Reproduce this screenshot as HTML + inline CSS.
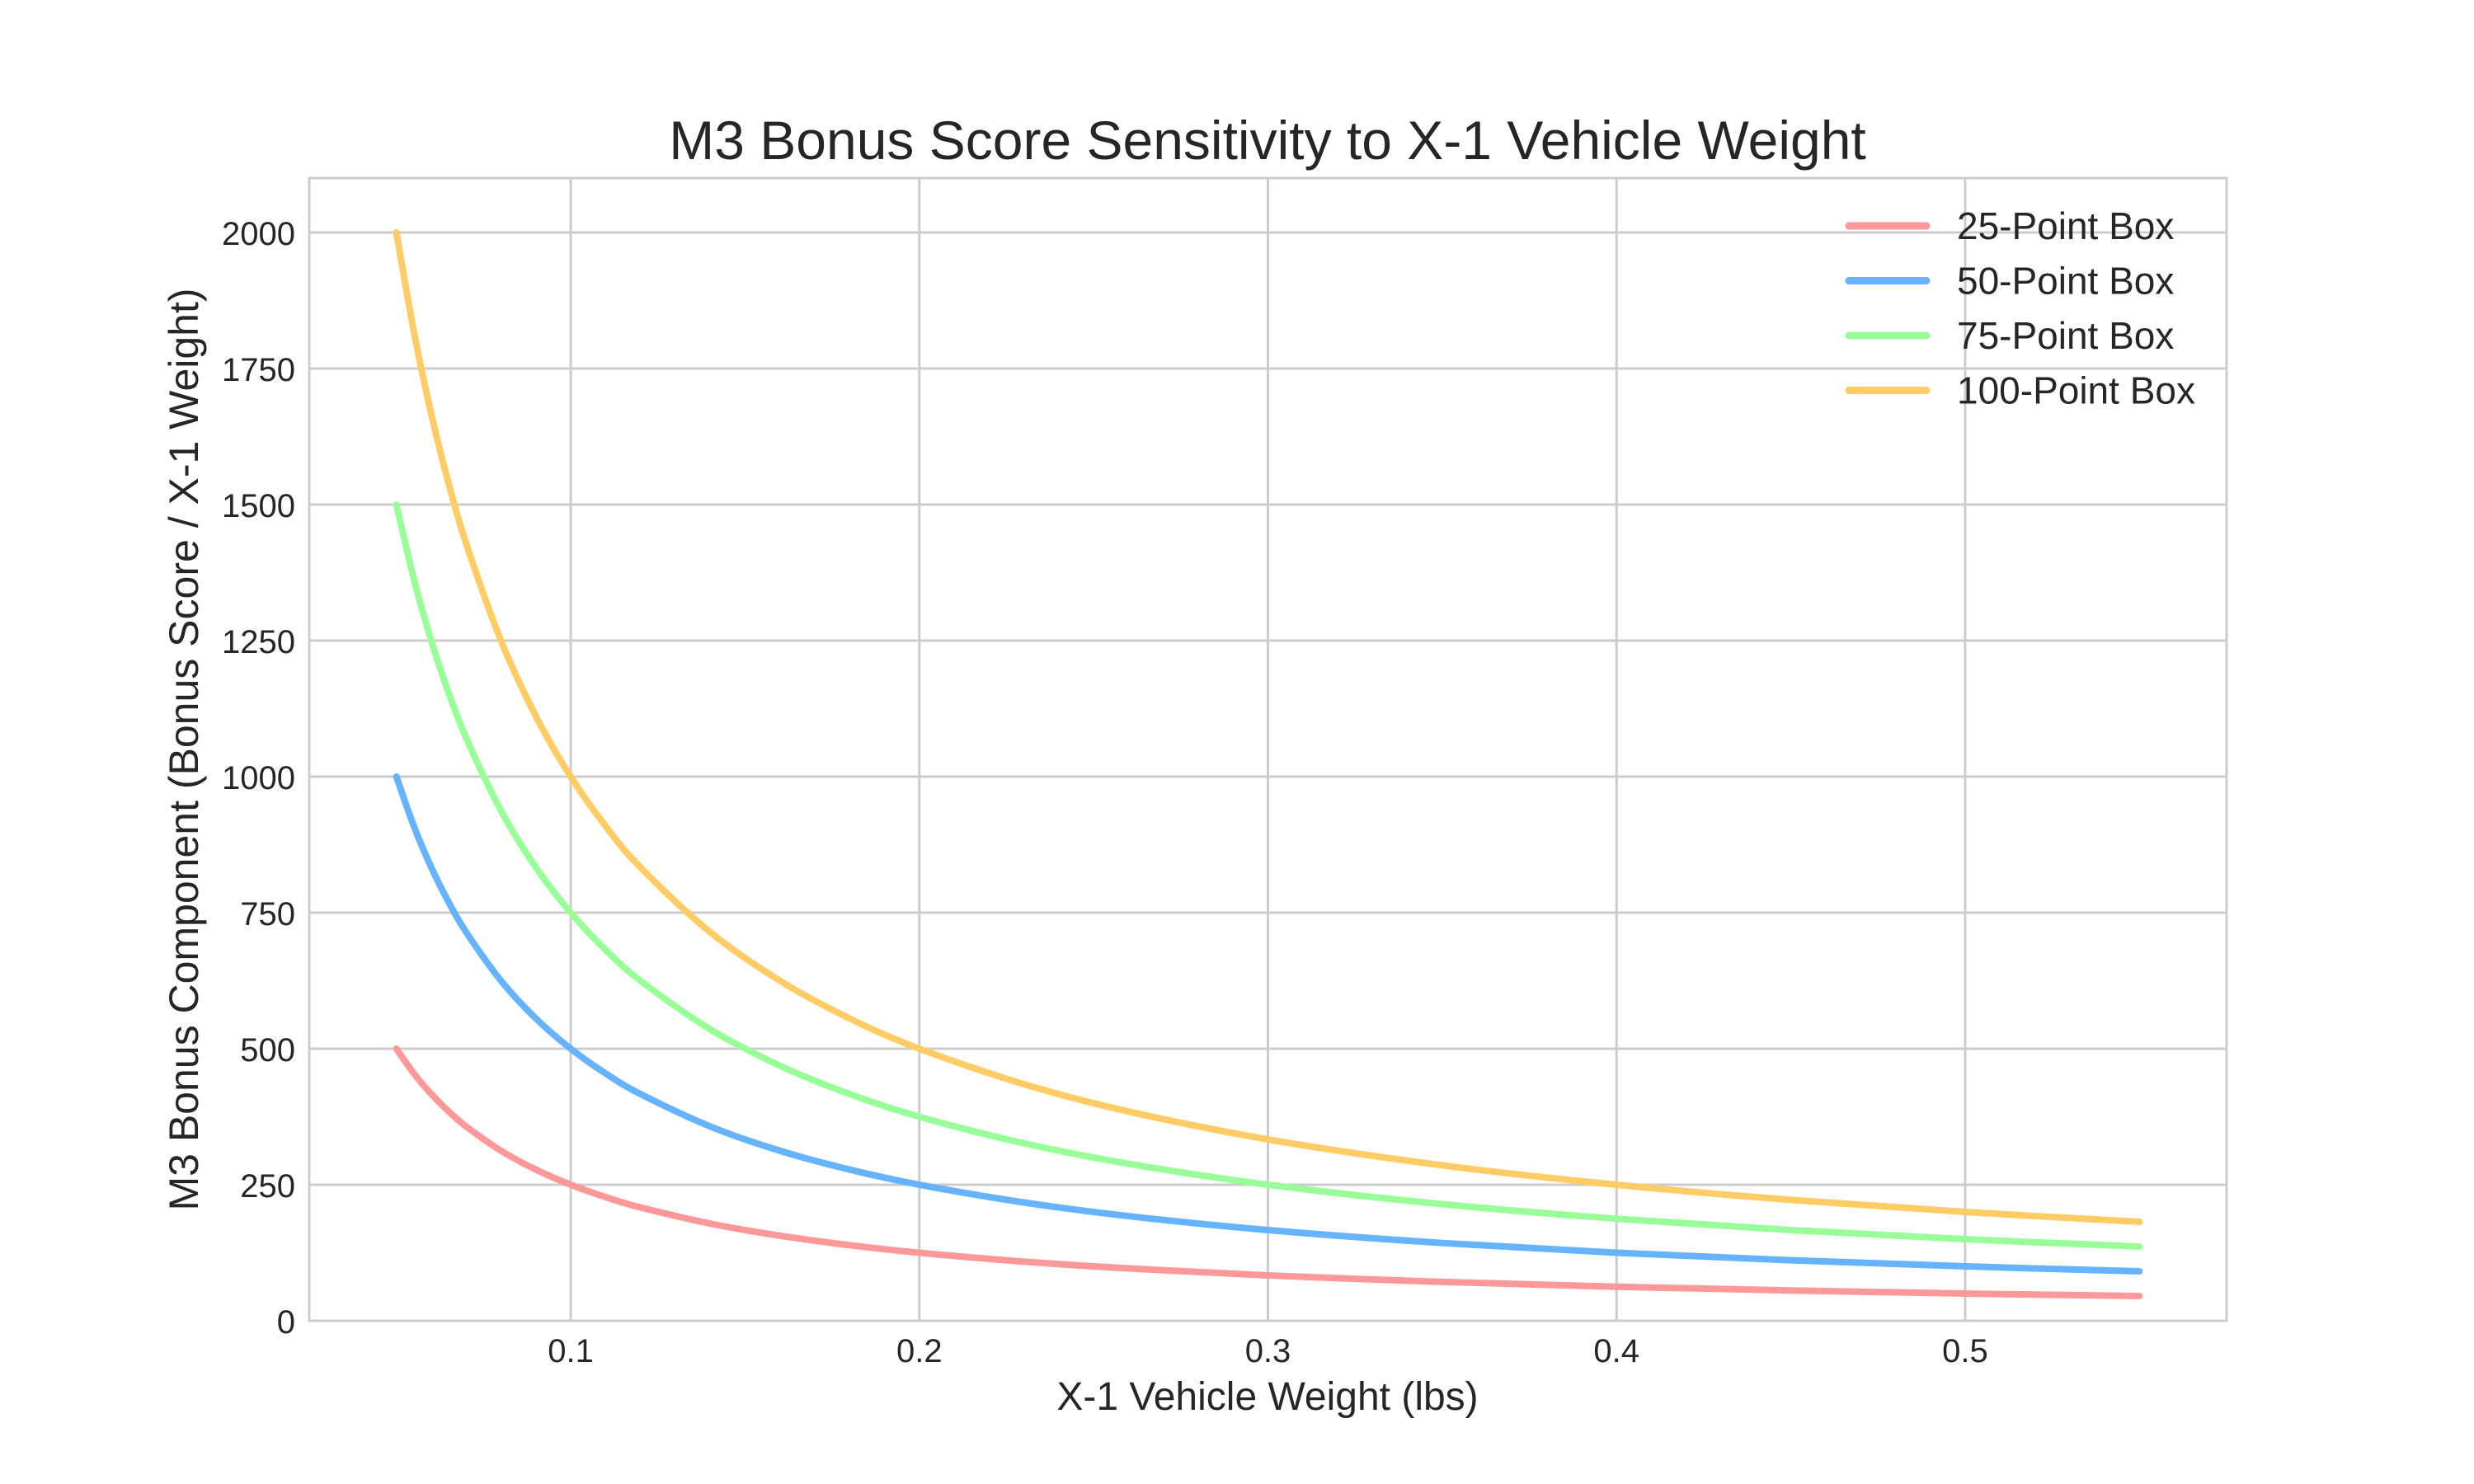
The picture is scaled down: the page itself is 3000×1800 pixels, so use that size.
<!DOCTYPE html>
<html><head><meta charset="utf-8"><style>
html,body{margin:0;padding:0;background:#fff;}
svg{display:block;font-family:"Liberation Sans",Arial,sans-serif;}
</style></head><body>
<svg id="chart" width="3000" height="1800" viewBox="0 0 3000 1800">
<rect width="3000" height="1800" fill="#fff"/>
<g id="grid"></g>
<g id="series"></g>
<rect x="375" y="216" width="2325" height="1386" fill="none" stroke="#cccccc" stroke-width="3"/>
<g id="ticks" fill="#262626" font-size="40"></g>
<text x="1537" y="193" text-anchor="middle" font-size="66" fill="#262626">M3 Bonus Score Sensitivity to X-1 Vehicle Weight</text>
<text x="1537" y="1710" text-anchor="middle" font-size="48" fill="#262626">X-1 Vehicle Weight (lbs)</text>
<text transform="translate(240,909) rotate(-90)" text-anchor="middle" font-size="50" fill="#262626">M3 Bonus Component (Bonus Score / X-1 Weight)</text>
<g id="legend" font-size="46" fill="#262626"></g>
</svg>
<script>
const weights = [0.05,0.055,0.06,0.065,0.07,0.08,0.09,0.1,0.11,0.12,0.14,0.16,0.18,0.2,0.23,0.26,0.3,0.35,0.4,0.45,0.5,0.55];
const box25 = [500,454.5,416.7,384.6,357.1,312.5,277.8,250,227.3,208.3,178.6,156.3,138.9,125,108.7,96.2,83.3,71.4,62.5,55.6,50,45.5];
const box50 = [1000,909.1,833.3,769.2,714.3,625,555.6,500,454.5,416.7,357.1,312.5,277.8,250,217.4,192.3,166.7,142.9,125,111.1,100,90.9];
const box75 = [1500,1363.6,1250,1153.8,1071.4,937.5,833.3,750,681.8,625,535.7,468.8,416.7,375,326.1,288.5,250,214.3,187.5,166.7,150,136.4];
const box100 = [2000,1818.2,1666.7,1538.5,1428.6,1250,1111.1,1000,909.1,833.3,714.3,625,555.6,500,434.8,384.6,333.3,285.7,250,222.2,200,181.8];
const seriesNames = ["25-Point Box","50-Point Box","75-Point Box","100-Point Box"];
const xTicks = [0.1,0.2,0.3,0.4,0.5];
const xTickLabels = ["0.1","0.2","0.3","0.4","0.5"];
const yTicks = [0,250,500,750,1000,1250,1500,1750,2000];
const yTickLabels = ["0","250","500","750","1000","1250","1500","1750","2000"];

const seriesData = [box25, box50, box75, box100];
const colors = ["#ff9999","#66b3ff","#99ff99","#ffcc66"];
const L=375,R=2700,T=216,B=1602, XMIN=0.025, XMAX=0.575, YMIN=0, YMAX=2100;
const sx = v => L + (v-XMIN)/(XMAX-XMIN)*(R-L);
const sy = v => B - (v-YMIN)/(YMAX-YMIN)*(B-T);
const NS="http://www.w3.org/2000/svg";
function mk(tag, attrs, parent){const e=document.createElementNS(NS,tag);for(const k in attrs)e.setAttribute(k,attrs[k]);parent.appendChild(e);return e;}
const grid=document.getElementById('grid'), ticks=document.getElementById('ticks');
xTicks.forEach((v,i)=>{
  const g=mk('line',{x1:sx(v),x2:sx(v),y1:T,y2:B,stroke:'#cccccc','stroke-width':3},grid);
  
  
  const t=mk('text',{x:sx(v),y:B+50,'text-anchor':'middle'},ticks);
  t.textContent=xTickLabels[i];
  
  
});
yTicks.forEach((v,i)=>{
  const g=mk('line',{x1:L,x2:R,y1:sy(v),y2:sy(v),stroke:'#cccccc','stroke-width':3},grid);
  
  
  const t=mk('text',{x:358,y:sy(v)+15,'text-anchor':'end'},ticks);
  t.textContent=yTickLabels[i];
  
  
});
function smoothPath(pts){
  let d='M'+pts[0][0]+','+pts[0][1];
  for(let i=0;i<pts.length-1;i++){
    const p0=pts[Math.max(i-1,0)],p1=pts[i],p2=pts[i+1],p3=pts[Math.min(i+2,pts.length-1)];
    const c1x=p1[0]+(p2[0]-p0[0])/6,c1y=p1[1]+(p2[1]-p0[1])/6;
    const c2x=p2[0]-(p3[0]-p1[0])/6,c2y=p2[1]-(p3[1]-p1[1])/6;
    d+=' C'+c1x+','+c1y+' '+c2x+','+c2y+' '+p2[0]+','+p2[1];
  }
  return d;
}
const sg=document.getElementById('series'), lg=document.getElementById('legend');
seriesData.forEach((vals,si)=>{
  const pts=weights.map((w,i)=>[sx(w),sy(vals[i])]);
  const p=mk('path',{d:smoothPath(pts),fill:'none',stroke:colors[si],'stroke-width':8,'stroke-linecap':'round','stroke-linejoin':'round'},sg);
  
  
  const cy=274+si*66.5;
  const ll=mk('line',{x1:2242,x2:2336,y1:cy,y2:cy,stroke:colors[si],'stroke-width':9,'stroke-linecap':'round'},lg);
  
  
  const lt=mk('text',{x:2373,y:cy+16},lg);
  lt.textContent=seriesNames[si];
  
  
});
</script>
</body></html>
